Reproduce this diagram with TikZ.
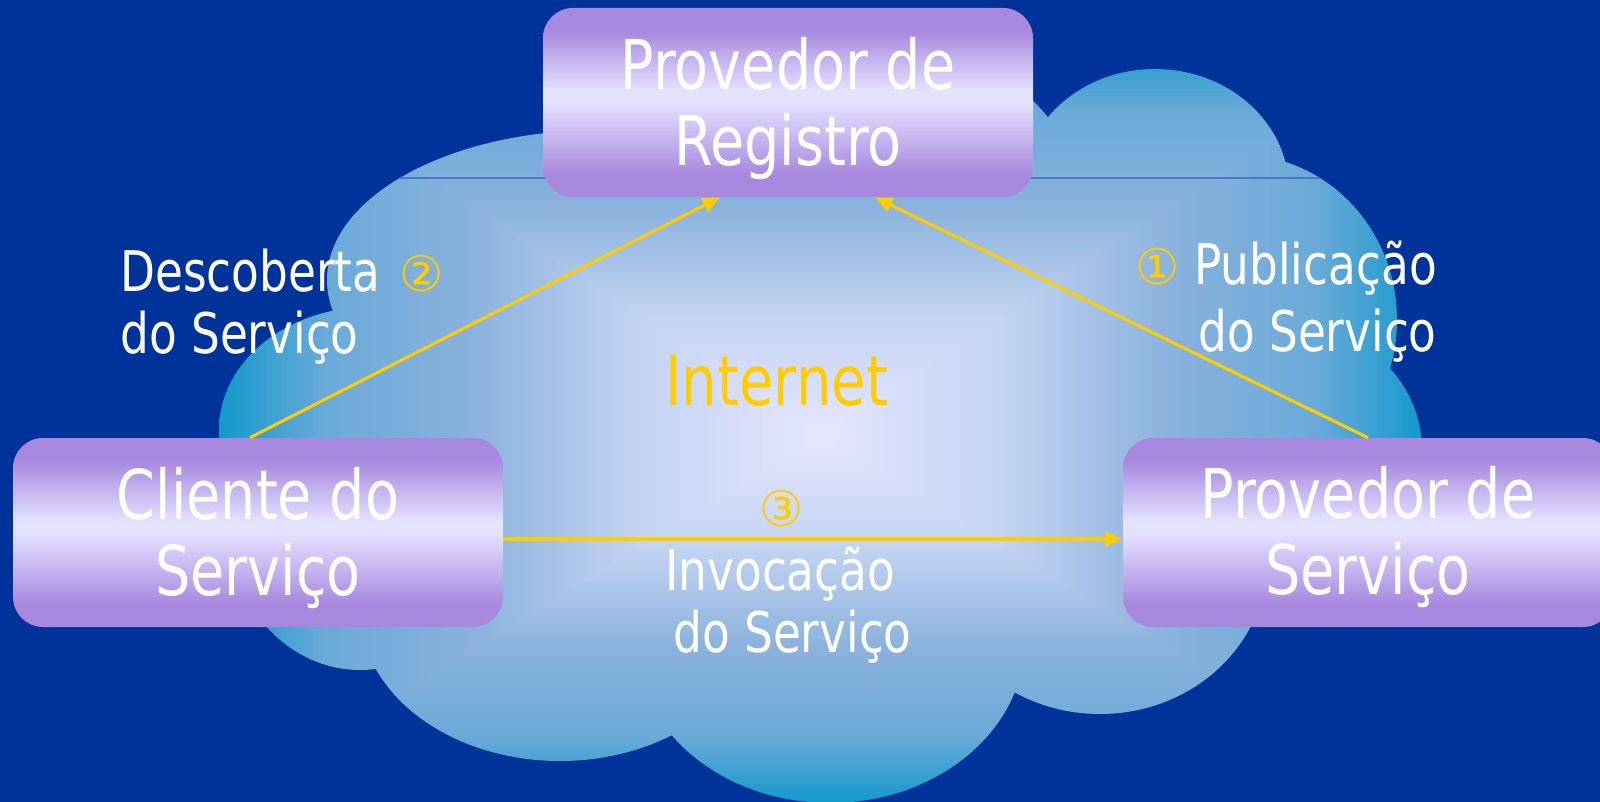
\documentclass[tikz,border=0pt]{standalone}
\usepackage{fontspec}
\setmainfont{DejaVu Sans}[FakeStretch=0.81]
\newfontfamily\circfont{DejaVu Sans}
\usetikzlibrary{arrows.meta,calc}
\definecolor{bg}{HTML}{003399}
\definecolor{boxp}{HTML}{A888DE}
\definecolor{boxl}{HTML}{E4E2FF}
\definecolor{ylw}{HTML}{FFCC00}
\definecolor{cedge}{HTML}{1299CC}
\definecolor{cqa}{HTML}{6AAAD8}
\definecolor{cqb}{HTML}{8AB2DC}
\definecolor{cqc}{HTML}{C4D4F2}
\definecolor{ccen}{HTML}{E6E6FF}
\definecolor{cline}{HTML}{4A7AC6}
\pgfdeclareverticalshading{boxshade}{100bp}{color(0bp)=(boxp); color(31bp)=(boxp); color(50bp)=(boxl); color(53bp)=(boxl); color(69bp)=(boxp); color(100bp)=(boxp)}
\pgfdeclarehorizontalshading{cloudL}{100bp}{color(0bp)=(cedge); color(25bp)=(cedge); color(34bp)=(cqa); color(46bp)=(cqb); color(60bp)=(cqc); color(75bp)=(ccen); color(100bp)=(ccen)}
\pgfdeclarehorizontalshading{cloudR}{100bp}{color(0bp)=(ccen); color(25bp)=(ccen); color(40bp)=(cqc); color(54bp)=(cqb); color(66bp)=(cqa); color(75bp)=(cedge); color(100bp)=(cedge)}
\pgfdeclareverticalshading{cloudT}{100bp}{color(0bp)=(ccen); color(25bp)=(ccen); color(40bp)=(cqc); color(54bp)=(cqb); color(66bp)=(cqa); color(75bp)=(cedge); color(100bp)=(cedge)}
\pgfdeclareverticalshading{cloudB}{100bp}{color(0bp)=(cedge); color(25bp)=(cedge); color(34bp)=(cqa); color(46bp)=(cqb); color(60bp)=(cqc); color(75bp)=(ccen); color(100bp)=(ccen)}
\newcommand\twoC[2]{\vtop{\halign{\hfil##\hfil\cr#1\cr#2\cr}}}
\newcommand\twoL[2]{\vtop{\halign{##\hfil\cr#1\cr#2\cr}}}
\newcommand\twoR[2]{\vtop{\halign{\hfil##\cr#1\cr#2\cr}}}
\newcommand\circnum[1]{{\circfont\fontsize{37pt}{37pt}\selectfont\color{ylw}#1}}
\tikzset{
  boxnode/.style={shade, shading=boxshade, rounded corners=22.5pt, minimum width=367.5pt, minimum height=141.75pt, inner sep=0pt},
  boxtxt/.style={text=white, font=\fontsize{51.5pt}{57pt}\selectfont, inner sep=0pt, anchor=base},
  lbl/.style={text=white, inner sep=0pt},
  conn/.style={draw=ylw, line width=2.3pt, -{Triangle[length=13pt,width=11pt]}},
}
\begin{document}
\begin{tikzpicture}[x=0.75pt,y=-0.75pt]
\useasboundingbox (0,0) rectangle (1600,802);
\clip (0,0) rectangle (1600,802);
\fill[bg] (0,0) rectangle (1600,802);
% cloud: union of lobes
\begin{scope}
\clip (600,280) ellipse [x radius=273, y radius=150]
      (930,210) ellipse [x radius=150, y radius=150]
      (1155,190) ellipse [x radius=134, y radius=121]
      (1240,320) ellipse [x radius=157, y radius=165]
      (1290,450) ellipse [x radius=132, y radius=125]
      (1100,560) ellipse [x radius=167, y radius=154]
      (830,640) ellipse [x radius=195, y radius=163]
      (560,610) ellipse [x radius=200, y radius=151]
      (360,520) ellipse [x radius=133, y radius=150]
      (370,430) ellipse [x radius=151, y radius=123]
      (800,430) ellipse [x radius=500, y radius=280];
\shade[shading=cloudT] (218,40) -- (1424,40) -- (821,435) -- cycle;
\shade[shading=cloudB] (218,803) -- (1424,803) -- (821,435) -- cycle;
\shade[shading=cloudL] (218,38) -- (823,435) -- (218,805) -- cycle;
\shade[shading=cloudR] (1424,38) -- (819,435) -- (1424,805) -- cycle;
\draw[cline, line width=1.1pt] (0,178) -- (1600,178);
\end{scope}
% boxes
\node[boxnode] (reg) at (788,102.5) {};
\node[boxnode] (cli) at (258,532.5) {};
\node[boxnode] (prov) at (1368,532.5) {};
% connectors
\draw[conn] ($(cli.north)+(-8,0)$) -- ($(reg.south)+(-68,0)$);
\draw[conn] (prov.north) -- ($(reg.south)+(87,0)$);
\draw[conn] ($(cli.east)+(0,6.5)$) -- ($(prov.west)+(0,6.5)$);
% texts
\node[boxtxt] (regt) at (788,90) {\twoC{Provedor de}{Registro}};
\node[boxtxt] (clit) at (258,519) {\twoC{Cliente do}{Serviço}};
\node[boxtxt] (provt) at (1368,518) {\twoC{Provedor de}{Serviço}};
\node[lbl, font=\fontsize{42pt}{46pt}\selectfont, anchor=base west] (desc) at (120,292) {\twoL{Descoberta\hskip14pt\circnum{②}}{do Serviço}};
\node[lbl, font=\fontsize{42pt}{50pt}\selectfont, anchor=base east] (pub) at (1437,285) {\twoR{\circnum{①}\hskip11pt Publicação}{do Serviço}};
\node[text=ylw, font=\fontsize{52pt}{52pt}\selectfont, inner sep=0pt, anchor=base west] (inet) at (665,405) {Internet};
\node[inner sep=0pt, anchor=base] (n3) at (782,526) {\circnum{③}};
\node[lbl, font=\fontsize{42pt}{47pt}\selectfont, anchor=base west] (invo) at (665,590) {\twoL{Invocação}{\hskip6pt do Serviço}};
\end{tikzpicture}
\end{document}
